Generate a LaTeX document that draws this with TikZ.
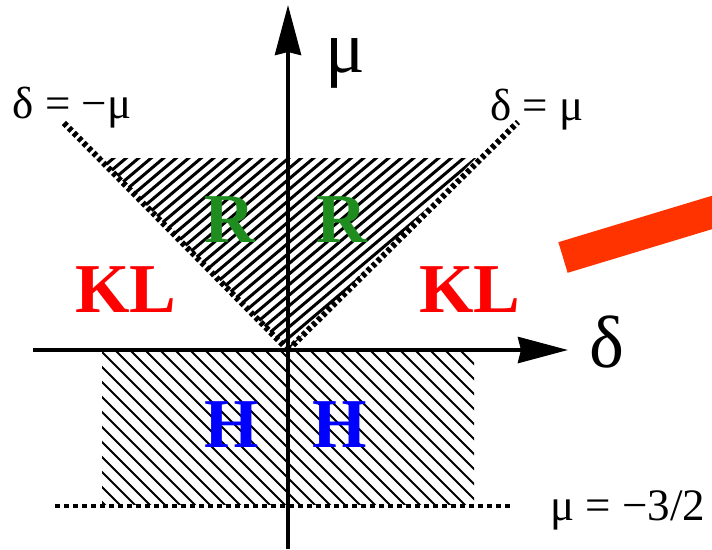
\documentclass[tikz,border=0pt]{standalone}
\usepackage{fontspec}
\setmainfont{Liberation Serif}
\usetikzlibrary{arrows.meta}
\definecolor{rgreen}{RGB}{30,140,30}
\definecolor{klred}{RGB}{255,0,0}
\definecolor{hblue}{RGB}{0,0,255}
\definecolor{barred}{RGB}{255,51,0}
\tikzset{
  axis/.style={line width=4pt, -{Stealth[length=50pt,width=26pt,inset=3pt]}},
  diag/.style={line width=6pt, dash pattern=on 4pt off 3pt},
  hatchA/.style={line width=3pt},
  hatchB/.style={line width=2pt},
  biglabel/.style={font=\fontsize{70}{70}\selectfont\bfseries, anchor=base, inner sep=0pt},
  eqlabel/.style={font=\fontsize{45}{45}\selectfont, anchor=base, inner sep=0pt},
  axlabel/.style={font=\fontsize{74}{74}\selectfont, anchor=base, inner sep=0pt},
}
\begin{document}
\begin{tikzpicture}[x=1pt,y=-1pt]
\useasboundingbox (0,0) rectangle (712,549);
% coordinates
\coordinate (O) at (288,350);
\coordinate (xs) at (33,350);
\coordinate (xe) at (568,350);
\coordinate (ys) at (288,549);
\coordinate (ye) at (288,5);
\coordinate (TL) at (100,158);
\coordinate (TR) at (476,158);
\coordinate (DL) at (63,122);
\coordinate (DR) at (518,122);
\coordinate (BL) at (55,506);
\coordinate (BR) at (512,506);
% triangle hatch
\begin{scope}
\clip (TL) -- (TR) -- (O) -- cycle;
\foreach \i in {-40,...,60} {
  \draw[hatchA] (\i*12.5,360) -- ++(260,-220);
}
\end{scope}
% rectangle hatch
\begin{scope}
\clip (102,350) rectangle (474,504);
\foreach \i in {-20,...,40} {
  \draw[hatchB] (\i*15,340) -- ++(200,200);
}
\end{scope}
% dotted lines
\draw[diag] (O) -- (DL);
\draw[diag] (O) -- (DR);
\draw[line width=4.5pt, dash pattern=on 5pt off 4pt] (BL) -- (BR);
% axes
\draw[axis] (xs) -- (xe);
\draw[axis] (ys) -- (ye);
% red bar
\coordinate (bar1) at (563,257.5);
\coordinate (bar2) at (740,204);
\draw[line width=32pt, barred] (bar1) -- (bar2);
% labels
\node[axlabel] (mu) at (345,72) {μ};
\node[axlabel] (delta) at (607,367) {δ};
\node[eqlabel] (dmm) at (72,118) {δ = −μ};
\node[eqlabel] (dm) at (537,120) {δ = μ};
\node[eqlabel] (m32) at (628,520) {μ = −3/2};
\node[biglabel, text=rgreen] (R1) at (230,242) {R};
\node[biglabel, text=rgreen] (R2) at (342,242) {R};
\node[biglabel, text=klred] (KL1) at (126,312) {KL};
\node[biglabel, text=klred] (KL2) at (470,312) {KL};
\node[biglabel, text=hblue] (H1) at (232,447) {H};
\node[biglabel, text=hblue] (H2) at (340,447) {H};
\end{tikzpicture}
\end{document}
